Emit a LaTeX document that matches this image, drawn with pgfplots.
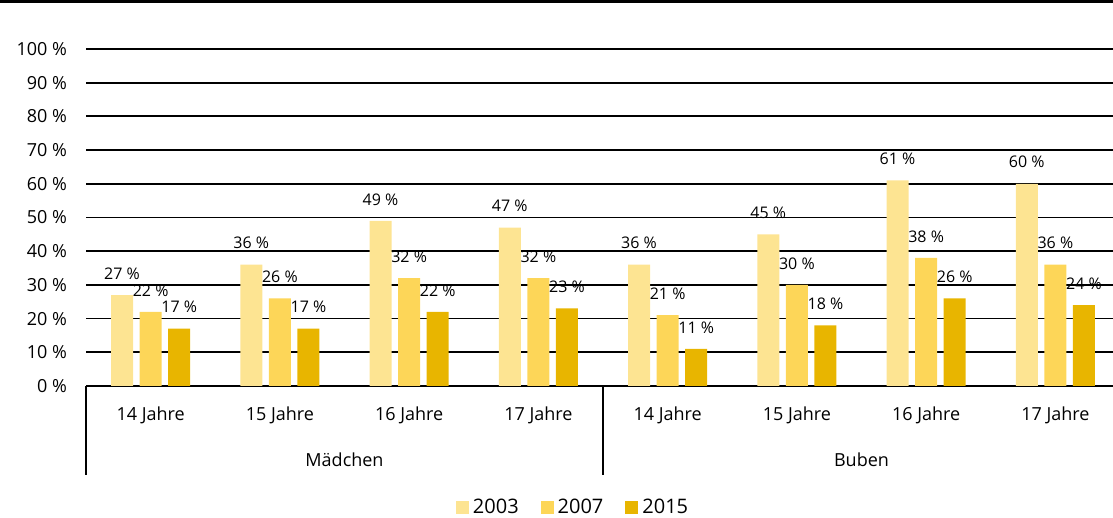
\documentclass[border=0pt]{standalone}
\usepackage{pgfplots}
\pgfplotsset{compat=1.18}
\usepackage{fontspec}
\setmainfont{Open Sans}
\definecolor{cA}{HTML}{FDE492}
\definecolor{cB}{HTML}{FDD658}
\definecolor{cC}{HTML}{E8B500}
\begin{document}
\begin{tikzpicture}
\useasboundingbox (0,0) rectangle (556.5pt,259pt);
\draw[line width=1.75pt] (0,258.25pt) -- (556.5pt,258.25pt);
\begin{axis}[
  at={(43pt,66pt)}, anchor=south west,
  scale only axis, width=517pt, height=168.5pt,
  xmin=-0.5, xmax=7.5, ymin=0, ymax=100,
  /pgf/number format/assume math mode=true,
  ybar=3.3pt, bar width=11pt,
  xtick={0,1,2,3,4,5,6,7},
  xticklabels={14 Jahre,15 Jahre,16 Jahre,17 Jahre,14 Jahre,15 Jahre,16 Jahre,17 Jahre},
  ytick={0,10,...,100},
  yticklabels={0 \%,10 \%,20 \%,30 \%,40 \%,50 \%,60 \%,70 \%,80 \%,90 \%,100 \%},
  axis x line*=bottom, axis y line*=left,
  y axis line style={draw=none},
  x axis line style={black, line width=0.9pt},
  major tick length=0pt,
  ymajorgrids, grid style={black, line width=0.9pt},
  tick label style={font=\fontsize{9}{10}\selectfont, text=black},
  yticklabel style={xshift=-6pt},
  xticklabel style={yshift=-7pt},
  clip=false,
  nodes near coords={\pgfmathprintnumber[assume math mode=true]{\pgfplotspointmeta} \%},
  every node near coord/.append style={font=\fontsize{8}{9}\selectfont, anchor=south, yshift=4.3pt, text=black},
  legend style={at={(axis description cs:0.472,-0.362)}, anchor=center, draw=none, legend columns=3,
    font=\fontsize{10}{11}\selectfont, /tikz/every even column/.append style={column sep=9pt}},
  legend image code/.code={\fill[#1,draw=none] (0pt,-3.25pt) rectangle (6.5pt,3.25pt);},
]
\addplot[fill=cA, draw=none] coordinates {(0,27) (1,36) (2,49) (3,47) (4,36) (5,45) (6,61) (7,60)};
\addplot[fill=cB, draw=none] coordinates {(0,22) (1,26) (2,32) (3,32) (4,21) (5,30) (6,38) (7,36)};
\addplot[fill=cC, draw=none] coordinates {(0,17) (1,17) (2,22) (3,23) (4,11) (5,18) (6,26) (7,24)};
\legend{2003,2007,2015}
\draw[black, line width=0.9pt] (axis cs:-0.5,0) -- ([yshift=-44.5pt]axis cs:-0.5,0);
\draw[black, line width=0.9pt] (axis cs:3.5,0) -- ([yshift=-44.5pt]axis cs:3.5,0);
\draw[black, line width=0.9pt] (axis cs:7.5,0) -- ([yshift=-44.5pt]axis cs:7.5,0);
\node[font=\fontsize{9}{10}\selectfont] at ([yshift=-37pt]axis cs:1.5,0) {Mädchen};
\node[font=\fontsize{9}{10}\selectfont] at ([yshift=-37pt]axis cs:5.5,0) {Buben};
\end{axis}
\end{tikzpicture}
\end{document}
